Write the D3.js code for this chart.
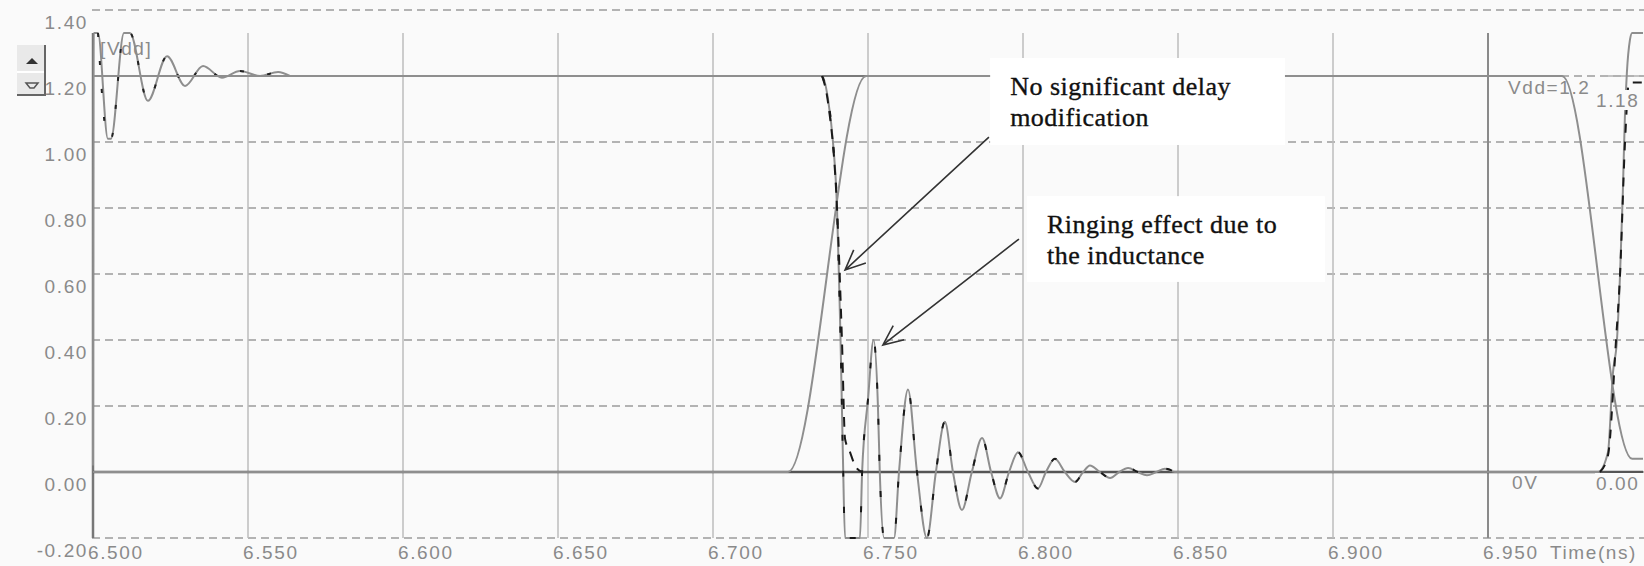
<!DOCTYPE html>
<html>
<head>
<meta charset="utf-8">
<script src="https://cdn.jsdelivr.net/npm/d3@7"></script>
<style>
  body { margin: 0; background: #fafafa; }
  svg { display: block; }
  .tick-label { font-family: "Liberation Sans", Arial, sans-serif; font-size: 19px; fill: #8a8a8a; letter-spacing: 1.6px; }
  .note { font-family: "Liberation Serif", "Times New Roman", serif; font-size: 26px; fill: #111; stroke: #111; stroke-width: 0.35px; letter-spacing: 0.5px; }
</style>
</head>
<body>
<div id="chart"></div>
<script>
// Axis ticks
var xTicks = [6.50, 6.55, 6.60, 6.65, 6.70, 6.75, 6.80, 6.85, 6.90, 6.95];
var xTickLabels = ["6.500", "6.550", "6.600", "6.650", "6.700", "6.750", "6.800", "6.850", "6.900", "6.950"];
var yTicks = [-0.2, 0.0, 0.2, 0.4, 0.6, 0.8, 1.0, 1.2, 1.4];
var yTickLabels = ["-0.20", "0.00", "0.20", "0.40", "0.60", "0.80", "1.00", "1.20", "1.40"];

// Supply node ringing at the start (V)
var supplyTime = [6.5000, 6.5002, 6.5016, 6.5048, 6.5058, 6.5100, 6.5119, 6.5177, 6.5239, 6.5297, 6.5355, 6.5416, 6.5474, 6.5539, 6.5597, 6.5635];
var supplyVolt = [0.02, 1.38, 1.38, 1.01, 1.01, 1.36, 1.36, 1.125, 1.26, 1.17, 1.23, 1.195, 1.215, 1.20, 1.212, 1.20];

// Vdd and 0V reference levels
var vddTime = [6.5000, 6.9739];
var vddVolt = [1.2, 1.2];
var markTime = [6.9887, 7.0000];
var markVolt = [1.2, 1.2];
var zeroTime = [6.5000, 7.0000];
var zeroVolt = [0.0, 0.0];

// Input ramp
var inTime = [6.5000, 6.7242, 6.7494, 6.9739, 6.9965, 7.0000];
var inVolt = [0.0, 0.0, 1.2, 1.2, 0.04, 0.04];

// Output with inductance (ringing)
var outTime = [6.5000, 6.7352, 6.7371, 6.7387, 6.7400, 6.7406, 6.7411, 6.7419, 6.7426, 6.7452, 6.7474, 6.7481,
  6.7500, 6.7518, 6.7532, 6.7538, 6.7552, 6.7568, 6.7584, 6.7600, 6.7629, 6.7658, 6.7690, 6.7719, 6.7748, 6.7774,
  6.7803, 6.7835, 6.7868, 6.7897, 6.7926, 6.7955, 6.7984, 6.8016, 6.8048, 6.8074, 6.8103, 6.8135, 6.8168, 6.8194,
  6.8216, 6.8248, 6.8281, 6.8310, 6.8339, 6.8370, 6.8400, 6.8430, 6.8458, 6.8490, 6.9855, 6.9887, 6.9903, 6.9916,
  6.9926, 6.9935, 6.9942, 6.9948, 6.9958, 6.9965, 7.0000];
var outVolt = [1.2, 1.2, 1.13, 1.00, 0.80, 0.60, 0.42, 0.05, -0.25, -0.45, -0.25, 0.00,
  0.22, 0.40, 0.20, 0.00, -0.25, -0.35, -0.25, 0.00, 0.25, 0.00, -0.21, 0.00, 0.152, 0.00,
  -0.115, 0.00, 0.103, 0.00, -0.08, 0.00, 0.06, 0.00, -0.05, 0.00, 0.04, 0.00, -0.03, 0.00,
  0.02, 0.00, -0.018, 0.00, 0.012, 0.00, -0.01, 0.00, 0.01, 0.00, 0.00, 0.06, 0.30, 0.40,
  0.60, 0.85, 1.09, 1.21, 1.31, 1.45, 1.45];

// Output without inductance (transitions only)
var refFallTime = [6.7352, 6.7371, 6.7400, 6.7416, 6.7426, 6.7442, 6.7458, 6.7480];
var refFallVolt = [1.2, 1.12, 0.80, 0.40, 0.10, 0.06, 0.02, 0.0];
var refRiseTime = [6.9861, 6.9887, 6.9913, 6.9926, 6.9942, 6.9955, 7.0000];
var refRiseVolt = [0.0, 0.05, 0.40, 0.60, 1.00, 1.18, 1.18];

// Annotations (data units)
var notes = [
  { lines: ["No significant delay", "modification"], box: [6.7894, 1.2545, 6.8845, 0.991], tail: [6.7890, 1.015], tip: [6.7426, 0.612] },
  { lines: ["Ringing effect due to", "the inductance"], box: [6.8013, 0.836, 6.8974, 0.576], tail: [6.7987, 0.706], tip: [6.7548, 0.385] }
];

var svgWidth = 1644;
var svgHeight = 566;

var svg = d3.select("#chart")
  .append("svg")
  .attr("width", svgWidth)
  .attr("height", svgHeight);

svg.append("rect")
  .attr("width", svgWidth)
  .attr("height", svgHeight)
  .attr("fill", "#fafafa");

var xScale = d3.scaleLinear().domain([6.5, 7.0]).range([93, 1643]);
var yScale = d3.scaleLinear().domain([-0.2, 1.4]).range([538, 10]);
var plotTop = 33;
var vMax = yScale.invert(plotTop);

function pairs(ts, vs) {
  return ts.map(function(t, i) { return { t: t, v: vs[i] }; });
}

var line = d3.line()
  .x(d => xScale(d.t))
  .y(d => yScale(Math.max(-0.2, Math.min(vMax, d.v))))
  .curve(d3.curveMonotoneX);

function trace(ts, vs, color, width, dash) {
  return svg.append("path")
    .datum(pairs(ts, vs))
    .attr("d", line)
    .attr("fill", "none")
    .attr("stroke", color)
    .attr("stroke-width", width)
    .attr("stroke-dasharray", dash || null);
}

// Horizontal dashed grid
svg.append("g").selectAll("line")
  .data(yTicks)
  .enter()
  .append("line")
  .attr("x1", xScale(6.5) - 1)
  .attr("x2", svgWidth)
  .attr("y1", d => yScale(d))
  .attr("y2", d => yScale(d))
  .attr("stroke", "#9c9c9c")
  .attr("stroke-width", 1.5)
  .attr("stroke-dasharray", "8,5");

// Vertical grid
svg.append("g").selectAll("line")
  .data(xTicks.slice(1))
  .enter()
  .append("line")
  .attr("x1", d => xScale(d))
  .attr("x2", d => xScale(d))
  .attr("y1", plotTop)
  .attr("y2", yScale(-0.2))
  .attr("stroke", d => d === 6.95 ? "#8a8a8a" : "#bdbdbd")
  .attr("stroke-width", d => d === 6.95 ? 2 : 1.5);

// Left axis
svg.append("line")
  .attr("x1", xScale(6.5))
  .attr("x2", xScale(6.5))
  .attr("y1", plotTop)
  .attr("y2", yScale(-0.2))
  .attr("stroke", "#777")
  .attr("stroke-width", 2.5);

// Traces
trace(zeroTime, zeroVolt, "#555", 2.5);
trace(vddTime, vddVolt, "#7a7a7a", 2);
trace(markTime, markVolt, "#b0b0b0", 1.5);
trace(inTime, inVolt, "#8e8e8e", 2);
trace(supplyTime, supplyVolt, "#8e8e8e", 2);
trace(supplyTime.slice(2), supplyVolt.slice(2), "#222", 2, "4,24");
trace(outTime, outVolt, "#8e8e8e", 2);
trace(outTime.slice(1, 50), outVolt.slice(1, 50), "#1a1a1a", 2, "6,30");
trace(refFallTime, refFallVolt, "#1a1a1a", 2, "10,8");
trace(refRiseTime, refRiseVolt, "#1a1a1a", 2, "9,9");

// Y tick labels
svg.append("g").selectAll("text")
  .data(yTicks)
  .enter()
  .append("text")
  .attr("class", "tick-label")
  .attr("x", 88)
  .attr("y", d => yScale(d) + 12)
  .attr("dy", "0.35em")
  .attr("text-anchor", "end")
  .text((d, i) => yTickLabels[i]);

// X tick labels with background
var xLab = svg.append("g").selectAll("g")
  .data(xTicks)
  .enter()
  .append("g")
  .attr("transform", d => `translate(${xScale(d) - 5}, 552)`);

xLab.append("text")
  .attr("class", "tick-label")
  .attr("dy", "0.35em")
  .text((d, i) => xTickLabels[i])
  .each(function() {
    var w = this.getComputedTextLength();
    d3.select(this.parentNode).insert("rect", "text")
      .attr("x", -1)
      .attr("y", -13)
      .attr("width", w + 2)
      .attr("height", 27)
      .attr("fill", "#fafafa");
  });

svg.append("text")
  .attr("class", "tick-label")
  .attr("x", xScale(6.95) + 62)
  .attr("y", 552)
  .attr("dy", "0.35em")
  .text("Time(ns)");

// Trace labels
svg.append("text")
  .attr("class", "tick-label")
  .attr("x", 100)
  .attr("y", 48)
  .attr("dy", "0.35em")
  .text("[Vdd]");

svg.append("text")
  .attr("class", "tick-label")
  .attr("x", 1508)
  .attr("y", 87)
  .attr("dy", "0.35em")
  .text("Vdd=1.2");

svg.append("text")
  .attr("class", "tick-label")
  .attr("x", 1512)
  .attr("y", 482)
  .attr("dy", "0.35em")
  .text("0V");

[["1.18", 100], ["0.00", 483]].forEach(function(m) {
  var g = svg.append("g").attr("transform", `translate(1596, ${m[1]})`);
  g.append("rect").attr("x", -1).attr("y", -10).attr("width", 48).attr("height", 20).attr("fill", "#fafafa");
  g.append("text").attr("class", "tick-label").attr("dy", "0.35em").text(m[0]);
});

// Annotation boxes and arrows
notes.forEach(function(n) {
  var x0 = xScale(n.box[0]), y0 = yScale(n.box[1]);
  var x1 = xScale(n.box[2]), y1 = yScale(n.box[3]);
  svg.append("rect")
    .attr("x", x0)
    .attr("y", y0)
    .attr("width", x1 - x0)
    .attr("height", y1 - y0)
    .attr("fill", "#fff");
  svg.append("text")
    .attr("class", "note")
    .attr("x", x0 + 20)
    .attr("y", y0 + 37)
    .selectAll("tspan")
    .data(n.lines)
    .enter()
    .append("tspan")
    .attr("x", x0 + 20)
    .attr("dy", (d, i) => i ? 31 : 0)
    .text(d => d);

  var tx = xScale(n.tail[0]), ty = yScale(n.tail[1]);
  var hx = xScale(n.tip[0]), hy = yScale(n.tip[1]);
  var ang = Math.atan2(hy - ty, hx - tx);
  var len = 22, spread = 0.42;
  svg.append("path")
    .attr("d", `M${tx},${ty}L${hx},${hy}` +
      `M${hx - len * Math.cos(ang - spread)},${hy - len * Math.sin(ang - spread)}L${hx},${hy}` +
      `L${hx - len * Math.cos(ang + spread)},${hy - len * Math.sin(ang + spread)}`)
    .attr("fill", "none")
    .attr("stroke", "#333")
    .attr("stroke-width", 1.6);
});

// Small scroll button at top left
var btn = svg.append("g");
btn.append("rect").attr("x", 17).attr("y", 45).attr("width", 28).attr("height", 50).attr("fill", "#e9e9e9");
btn.append("path").attr("d", "M17,72H45").attr("stroke", "#fff").attr("stroke-width", 2);
btn.append("path").attr("d", "M45,45V96M17,95H46").attr("stroke", "#666").attr("stroke-width", 2);
btn.append("path").attr("d", "M26,64L38,64L32,58Z").attr("fill", "#333");
btn.append("path").attr("d", "M26,83H38L34,88H30Z").attr("fill", "none").attr("stroke", "#555").attr("stroke-width", 1.5);
</script>
</body>
</html>
